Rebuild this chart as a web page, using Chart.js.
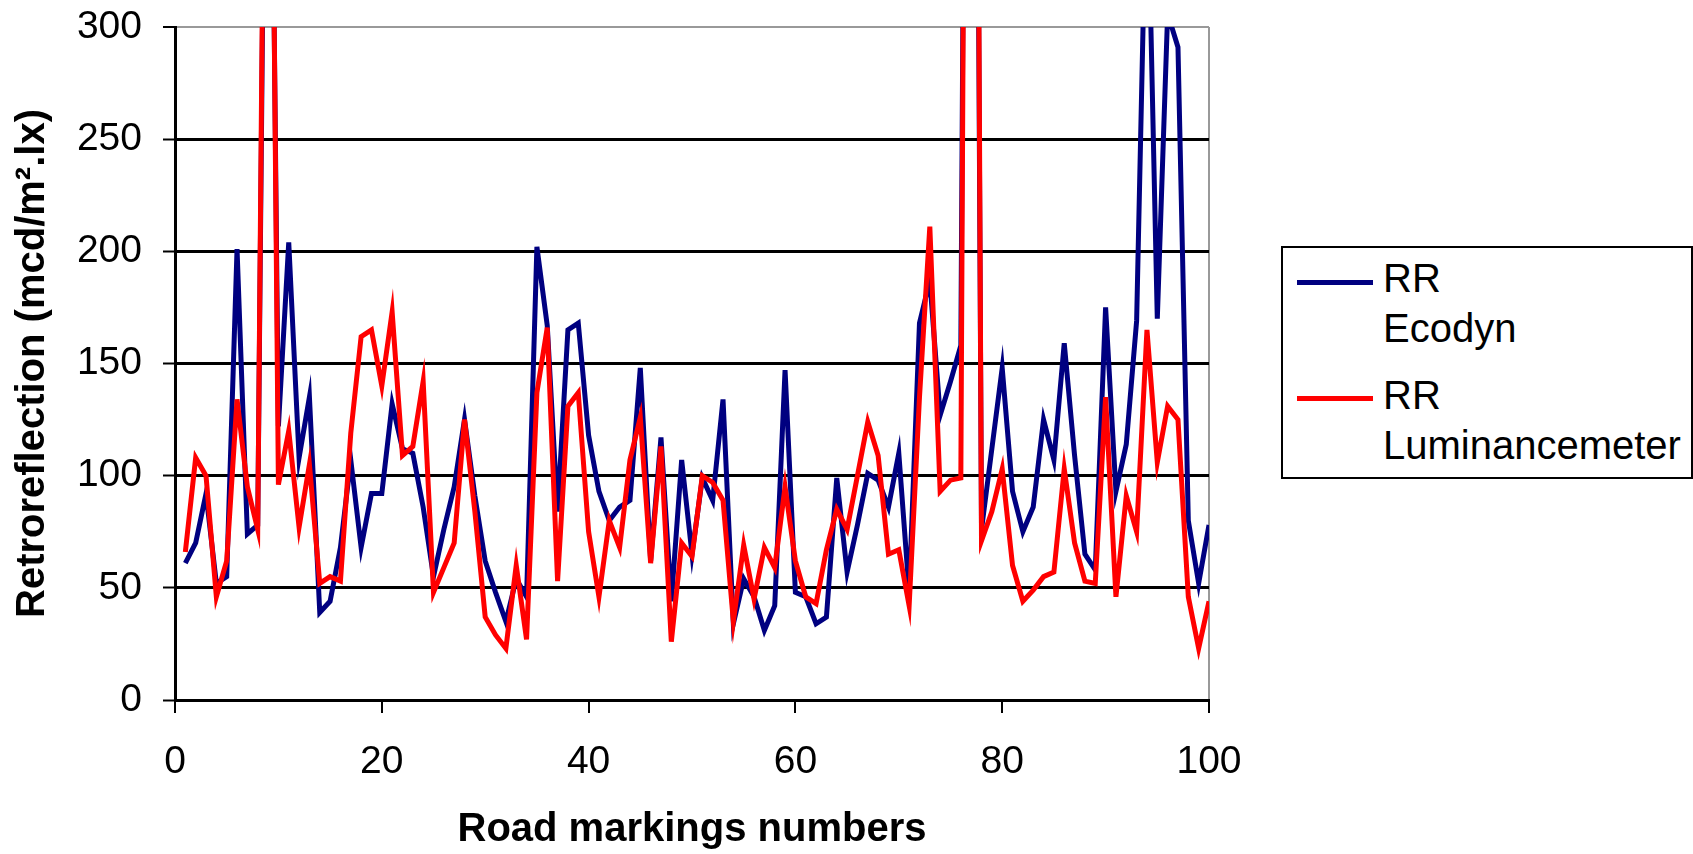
<!DOCTYPE html>
<html>
<head>
<meta charset="utf-8">
<title>Retroreflection of road markings</title>
<script src="https://cdn.jsdelivr.net/npm/chart.js@4.4.1/dist/chart.umd.min.js"></script>
<style>
  body { margin: 0; background: #fff; }
  #wrap { position: relative; width: 1693px; height: 854px; font-family: "Liberation Sans", Arial, sans-serif; }
  #legend { position: absolute; left: 1281px; top: 246px; width: 408px; height: 229px; border: 2px solid #000; background: #fff; }
  .key { position: absolute; left: 14px; width: 76px; height: 5px; }
  .lab { position: absolute; left: 100px; font-size: 40px; line-height: 50px; color: #000; white-space: nowrap; }
</style>
</head>
<body>
<div id="wrap">
  <canvas id="chart" width="1693" height="854"></canvas>
  <div id="legend">
    <div class="key" style="top:32px;background:#000080"></div>
    <div class="lab" style="top:5px">RR<br>Ecodyn</div>
    <div class="key" style="top:148px;background:#ff0000"></div>
    <div class="lab" style="top:122px">RR<br>Luminancemeter</div>
  </div>
</div>
<script>
// road marking numbers (x)
const markingNo = [1,2,3,4,5,6,7,8,9,10,11,12,13,14,15,16,17,18,19,20,
  21,22,23,24,25,26,27,28,29,30,31,32,33,34,35,36,37,38,39,40,
  41,42,43,44,45,46,47,48,49,50,51,52,53,54,55,56,57,58,59,60,
  61,62,63,64,65,66,67,68,69,70,71,72,73,74,75,76,77,78,79,80,
  81,82,83,84,85,86,87,88,89,90,91,92,93,94,95,96,97,98,99,100];

// RR Ecodyn (values above 300 run off the top of the chart)
const ecodyn = [61,70,92,52,55,201,74,78,560,122,
  204,108,135,39,44,68,107,68,92,92,
  132,112,110,86,55,76,95,125,91,62,
  48,35,54,46,202,167,84,165,168,118,
  93,80,86,89,148,62,117,44,107,65,
  99,89,134,34,54,46,31,42,147,48,
  46,34,37,99,57,78,101,98,86,110,
  48,168,187,127,142,158,900,76,112,148,
  93,75,86,125,107,159,109,65,58,175,
  93,114,169,380,170,306,291,80,52,78];

// RR Luminancemeter
const luminancemeter = [66,108,100,46,62,134,95,76,600,96,
  120,77,105,52,55,53,119,162,165,140,
  173,109,113,142,48,59,70,125,84,37,
  29,23,60,27,137,166,53,131,137,75,
  46,80,68,107,126,61,113,26,70,64,
  100,97,89,35,69,45,68,59,95,62,
  46,43,67,85,76,100,124,109,65,67,
  42,135,211,93,98,99,1000,71,84,103,
  60,44,49,55,57,103,70,53,52,135,
  46,91,75,165,106,131,125,46,23,44];

const yTicks = [0, 50, 100, 150, 200, 250, 300];
const xTicks = [0, 20, 40, 60, 80, 100];

const FONT = "'Liberation Sans', Arial, sans-serif";
const toPoints = vals => vals.map((v, i) => ({ x: markingNo[i], y: v }));

const ctx = document.getElementById('chart').getContext('2d');
new Chart(ctx, {
  type: 'line',
  data: {
    datasets: [
      { label: 'RR Ecodyn', data: toPoints(ecodyn), borderColor: '#000080', borderWidth: 5,
        pointRadius: 0, tension: 0, order: 1, clip: 0 },
      { label: 'RR Luminancemeter', data: toPoints(luminancemeter), borderColor: '#ff0000', borderWidth: 5,
        pointRadius: 0, tension: 0, order: 0, clip: 0 }
    ]
  },
  options: {
    responsive: false,
    animation: false,
    layout: { padding: { top: 27, right: 484, left: 0, bottom: 0 } },
    plugins: { legend: { display: false }, tooltip: { enabled: false } },
    scales: {
      x: {
        type: 'linear', min: xTicks[0], max: xTicks[xTicks.length - 1],
        afterBuildTicks: s => { s.ticks = xTicks.map(v => ({ value: v })); },
        afterFit: s => { s.height = 154; s.paddingLeft = 0; s.paddingRight = 0; },
        ticks: { color: '#000', padding: 26, maxRotation: 0, font: { family: FONT, size: 39 } },
        grid: {
          color: c => (c.tick && c.tick.value === 100) ? '#999' : 'rgba(0,0,0,0)',
          lineWidth: 2, tickColor: '#000', tickLength: 13, tickWidth: 2
        },
        border: { color: '#000', width: 3 },
        title: { display: true, text: 'Road markings numbers', color: '#000', padding: { top: 0, bottom: 0 },
          font: { family: FONT, size: 40, weight: 'bold' } }
      },
      y: {
        min: yTicks[0], max: yTicks[yTicks.length - 1],
        afterBuildTicks: s => { s.ticks = yTicks.map(v => ({ value: v })); },
        afterFit: s => { s.width = 175; s.paddingTop = 0; s.paddingBottom = 0; },
        ticks: { color: '#000', padding: 21, font: { family: FONT, size: 39 } },
        grid: {
          color: c => (c.tick && c.tick.value === 300) ? '#999' : '#000',
          lineWidth: c => (c.tick && c.tick.value === 300) ? 2 : 3,
          tickColor: '#000', tickLength: 12, tickWidth: 2
        },
        border: { color: '#000', width: 3 },
        title: { display: true, text: 'Retroreflection (mcd/m².lx)', color: '#000', padding: { top: 9, bottom: 0 },
          font: { family: FONT, size: 40, weight: 'bold' } }
      }
    }
  }
});
</script>
</body>
</html>
